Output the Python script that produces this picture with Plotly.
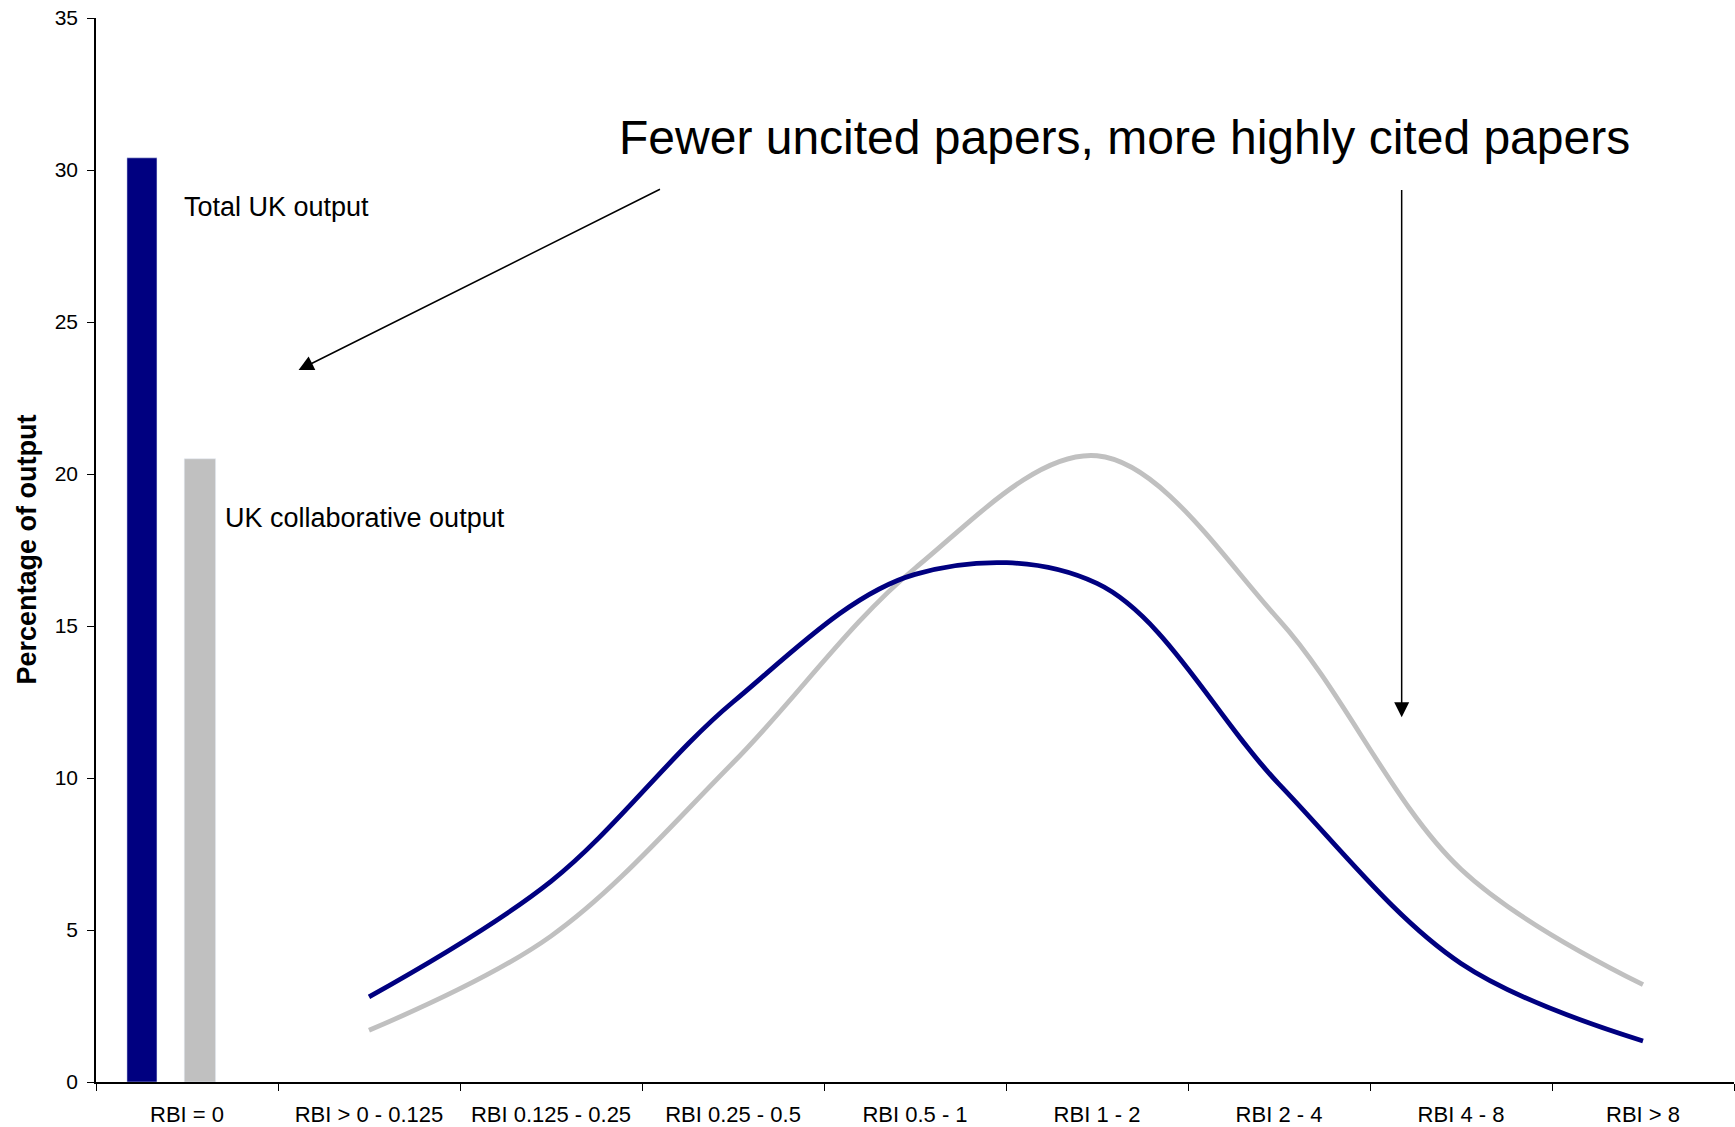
import plotly.graph_objects as go

# Citation-impact bands (RBI = relative bibliometric impact)
categories = [
    "RBI = 0", "RBI > 0 - 0.125", "RBI 0.125 - 0.25", "RBI 0.25 - 0.5",
    "RBI 0.5 - 1", "RBI 1 - 2", "RBI 2 - 4", "RBI 4 - 8", "RBI > 8",
]

# Share of uncited papers (RBI = 0), drawn as bars
uncited_total = [30.4]
uncited_collab = [20.5]

# Share of cited papers in each RBI band, drawn as smoothed lines
cited_total = [2.8, 6.6, 12.5, 16.7, 16.4, 9.8, 3.9, 1.35]
cited_collab = [1.7, 4.8, 10.5, 16.9, 20.6, 15.2, 7.0, 3.2]

NAVY = "#000080"
GREY = "#C0C0C0"
FONT = "Liberation Sans, Arial, sans-serif"

W, H = 1735, 1127
ml, mr, mt, mb = 96, 1, 18, 45

fig = go.Figure()

fig.add_trace(go.Bar(
    x=categories[:1], y=uncited_total, marker_color=NAVY,
    width=0.165, offset=-0.33, showlegend=False,
))
fig.add_trace(go.Bar(
    x=categories[:1], y=uncited_collab, marker_color=GREY,
    width=0.172, offset=-0.015, showlegend=False,
))
fig.add_trace(go.Scatter(
    x=categories[1:], y=cited_collab, mode="lines",
    line=dict(color=GREY, width=4.8, shape="spline", smoothing=1.0),
    showlegend=False,
))
fig.add_trace(go.Scatter(
    x=categories[1:], y=cited_total, mode="lines",
    line=dict(color=NAVY, width=4.8, shape="spline", smoothing=1.0),
    showlegend=False,
))

annotations = [
    dict(x=5.15, y=31.07, xref="x", yref="y", text="Fewer uncited papers, more highly cited papers",
         showarrow=False, font=dict(size=48, color="black", family=FONT), xanchor="center", yanchor="middle"),
    dict(x=-0.026, y=28.77, xref="x", yref="y", text="Total UK output",
         showarrow=False, font=dict(size=27, color="black", family=FONT), xanchor="left", yanchor="middle"),
    dict(x=0.199, y=18.54, xref="x", yref="y", text="UK collaborative output",
         showarrow=False, font=dict(size=27, color="black", family=FONT), xanchor="left", yanchor="middle"),
    # arrow pointing at the uncited bars
    dict(x=0.613, y=23.42, xref="x", yref="y", ax=2.607, ay=29.39, axref="x", ayref="y",
         text="", showarrow=True, arrowhead=2, arrowsize=2, arrowwidth=1.5, arrowcolor="black"),
    # arrow pointing at the highly cited tail
    dict(x=6.674, y=12.0, xref="x", yref="y", ax=6.674, ay=29.39, axref="x", ayref="y",
         text="", showarrow=True, arrowhead=2, arrowsize=2, arrowwidth=1.5, arrowcolor="black"),
    # y-axis title
    dict(xref="paper", yref="paper",
         x=(26.5 - ml) / (W - ml - mr), y=(H - mb - 550) / (H - mt - mb),
         text="<b>Percentage of output</b>", textangle=-90, showarrow=False,
         font=dict(size=27, color="black", family=FONT), xanchor="center", yanchor="middle"),
]

fig.update_layout(
    width=W, height=H,
    margin=dict(l=ml, r=mr, t=mt, b=mb, pad=0),
    paper_bgcolor="white", plot_bgcolor="white",
    font=dict(family=FONT, color="black", size=20),
    barmode="overlay",
    annotations=annotations,
    xaxis=dict(
        type="category", categoryorder="array", categoryarray=categories,
        range=[-0.5, 8.5], showgrid=False, zeroline=False,
        showline=True, linecolor="black", linewidth=1.5,
        ticks="outside", tickson="boundaries", ticklen=7, tickcolor="black", tickwidth=1,
        tickfont=dict(size=22, family=FONT, color="black"), ticklabelstandoff=12,
    ),
    yaxis=dict(
        range=[0, 35], dtick=5, showgrid=False, zeroline=False,
        showline=True, linecolor="black", linewidth=1.5,
        ticks="outside", ticklen=7, tickcolor="black", tickwidth=1,
        tickfont=dict(size=21, family=FONT, color="black"), ticklabelstandoff=5,
    ),
)

fig.write_html("out.html")
